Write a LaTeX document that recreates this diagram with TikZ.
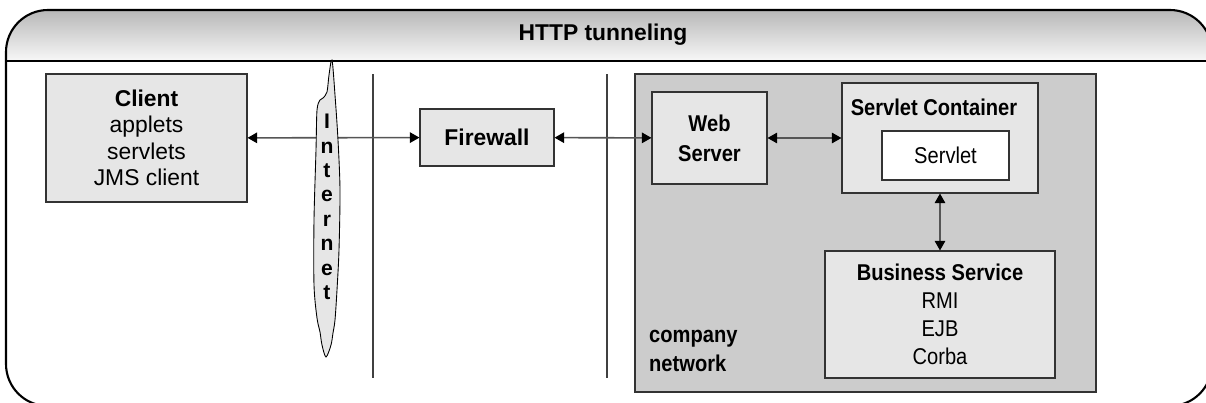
\documentclass[tikz,border=0pt]{standalone}
\usepackage{fontspec}
\setmainfont{Liberation Sans}
\newfontfamily\narrowfont[FakeStretch=0.88]{Liberation Sans}
\usetikzlibrary{arrows.meta,positioning}
\definecolor{boxgray}{HTML}{E6E6E6}
\definecolor{netgray}{HTML}{CCCCCC}
\definecolor{linegray}{HTML}{555555}

\begin{document}
\begin{tikzpicture}[
    >={Triangle[length=5.5pt,width=6pt,color=black]},
    box/.style={draw=black!80, fill=boxgray, line width=0.6pt, align=center, inner sep=0pt, font=\fontsize{13}{15}\selectfont},
    netbox/.style={box, font=\narrowfont\fontsize{13}{16}\selectfont},
    arrow/.style={<->, line width=0.9pt, linegray},
    divider/.style={black!75, line width=0.6pt},
    title/.style={font=\bfseries\fontsize{13}{16}\selectfont, align=center},
]
\useasboundingbox (0,0) rectangle (24.12,8.04);

% Frame and header
\begin{scope}
\clip[rounded corners=0.84cm] (0.12,-0.08) rectangle (24.24,7.84);
\shade[top color=black!28, bottom color=black!3] (0.12,6.82) rectangle (24.24,7.84);
\end{scope}
\draw[line width=1.2pt, rounded corners=0.84cm] (0.12,-0.08) rectangle (24.24,7.84);
\draw[line width=1.1pt] (0.12,6.82) -- (24.24,6.82);
\node[title] (head) at (12.06,7.34) {HTTP tunneling};

% Company network
\node[draw=black!80, fill=netgray, line width=0.6pt, minimum width=9.22cm, minimum height=6.36cm] (net) at (17.31,3.38) {};
\node[title, font=\narrowfont\bfseries\fontsize{13}{16}\selectfont, anchor=west, align=left] (netlabel) at (12.86,1.02) {company\\network};

% Dividers
\draw[divider] (7.46,6.56) -- (7.46,0.48);
\draw[divider] (12.14,6.56) -- (12.14,0.48);

% Boxes
\node[box, minimum width=4.02cm, minimum height=2.56cm] (client) at (2.93,5.28) {\textbf{Client}\\applets\\servlets\\JMS client};
\node[box, minimum width=2.68cm, minimum height=1.14cm, font=\bfseries\fontsize{13}{15}\selectfont] (fw) at (9.74,5.29) {Firewall};
\node[netbox, minimum width=2.3cm, minimum height=1.84cm, font=\narrowfont\bfseries\fontsize{13}{17}\selectfont] (web) at (14.19,5.28) {Web\\Server};
\node[netbox, minimum width=3.92cm, minimum height=2.2cm] (sc) at (18.8,5.28) {};
\node[title, font=\narrowfont\bfseries\fontsize{13}{16}\selectfont] (sctitle) at (18.68,5.9) {Servlet Container};
\node[netbox, fill=white, minimum width=2.54cm, minimum height=0.98cm] (servlet) at (18.91,4.93) {Servlet};
\node[netbox, minimum width=4.6cm, minimum height=2.54cm] (bs) at (18.8,1.75) {\textbf{Business Service}\\RMI\\EJB\\Corba};

% Arrows
\draw[arrow] (client) -- (fw);
\draw[arrow] (fw) -- (web);
\draw[arrow] (web) -- (sc);
\draw[arrow] (sc) -- (bs);

% Internet cloud
\draw[fill=boxgray, line width=0.5pt] plot[smooth cycle, tension=0.5] coordinates {
    (6.64,6.84) (6.70,6.14) (6.76,5.24) (6.80,4.24) (6.78,3.04) (6.74,2.24)
    (6.70,1.64) (6.66,1.38) (6.62,1.14) (6.52,0.90) (6.44,1.14) (6.40,1.40)
    (6.34,1.68) (6.28,2.34) (6.28,3.64) (6.32,5.04) (6.34,5.84) (6.40,6.04)
    (6.46,6.08) (6.54,6.20) (6.58,6.54)};
\node[font=\bfseries\fontsize{12}{13.9}\selectfont, align=center] (inet) at (6.54,3.9) {I\\n\\t\\e\\r\\n\\e\\t};
\end{tikzpicture}
\end{document}
